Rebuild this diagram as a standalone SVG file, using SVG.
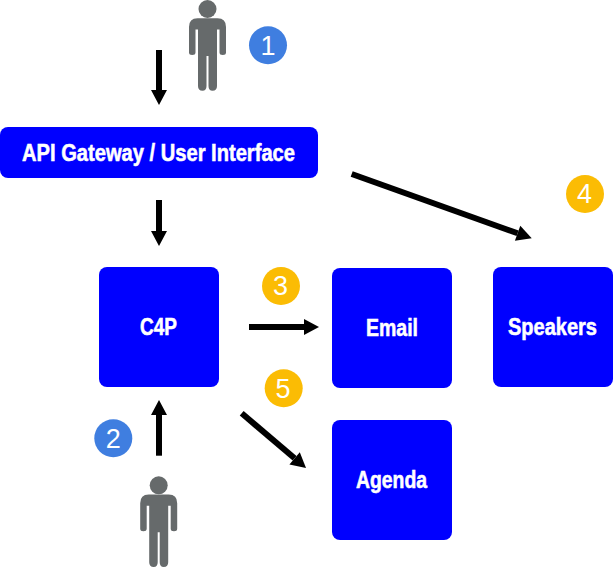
<svg xmlns="http://www.w3.org/2000/svg" xmlns:xlink="http://www.w3.org/1999/xlink" width="614" height="568" viewBox="0 0 614 568">
<style>
.box{fill:#0000ff}
.lbl{font-family:"Liberation Sans",Arial,sans-serif;font-weight:700;font-size:23.500px;fill:#fff;stroke:#fff;stroke-width:.55}
.num{font-family:"Liberation Sans",Arial,sans-serif;font-size:27px;fill:#fff;text-anchor:middle}
.blue{fill:#3f7ee0}
.gold{fill:#fbbc04}
.person{fill:#666a6b}
.conn line{stroke:#000;stroke-width:6;marker-end:url(#ah)}
</style>
<defs>
<marker id="ah" markerUnits="userSpaceOnUse" markerWidth="16" markerHeight="17" refX="0" refY="8" orient="auto" overflow="visible"><path d="M0,0L15,8L0,16z" fill="#000"/></marker>
<g id="man">
<circle cx="0" cy="9" r="9"/>
<path d="M-10,18.300H10Q18.500,18.300 18.500,27V52.500Q18.500,55 15.300,55Q12,55 12,52.500V29.500H9.500V86Q9.500,90.700 5,90.700Q1,90.700 1,86V56H-1V86Q-1,90.700 -5,90.700Q-9.500,90.700 -9.500,86V29.500H-12V52.500Q-12,55 -15.300,55Q-18.500,55 -18.500,52.500V27Q-18.500,18.300 -10,18.300z"/>
</g>
</defs>
<g id="user-top" class="person"><use xlink:href="#man" href="#man" x="207.500" y="0"/></g>
<g id="user-bottom" class="person"><use xlink:href="#man" href="#man" x="158.700" y="476.300"/></g>
<g id="gateway"><rect class="box" x="0" y="127" width="318" height="51" rx="8"/><text class="lbl" x="22" y="161" textLength="273" lengthAdjust="spacingAndGlyphs">API Gateway / User Interface</text></g>
<g id="c4p"><rect class="box" x="99" y="267" width="120" height="120" rx="8"/><text class="lbl" x="140" y="335" textLength="37" lengthAdjust="spacingAndGlyphs">C4P</text></g>
<g id="email"><rect class="box" x="332" y="268" width="120" height="120" rx="8"/><text class="lbl" x="366" y="336" textLength="52" lengthAdjust="spacingAndGlyphs">Email</text></g>
<g id="speakers"><rect class="box" x="493" y="267" width="120" height="120" rx="8"/><text class="lbl" x="508" y="335" textLength="89" lengthAdjust="spacingAndGlyphs">Speakers</text></g>
<g id="agenda"><rect class="box" x="332" y="420" width="120" height="120" rx="8"/><text class="lbl" x="356" y="488" textLength="71" lengthAdjust="spacingAndGlyphs">Agenda</text></g>
<g id="badge-1"><circle class="blue" cx="268" cy="45.300" r="19"/><text class="num" x="268" y="55">1</text></g>
<g id="badge-2"><circle class="blue" cx="113.300" cy="438.300" r="19"/><text class="num" x="113.300" y="448">2</text></g>
<g id="badge-3"><circle class="gold" cx="281" cy="286" r="19"/><text class="num" x="280.500" y="295">3</text></g>
<g id="badge-4"><circle class="gold" cx="585" cy="194" r="19"/><text class="num" x="584.500" y="203">4</text></g>
<g id="badge-5"><circle class="gold" cx="283.700" cy="388.300" r="19"/><text class="num" x="283" y="397.500">5</text></g>
<g id="connectors" class="conn">
<line x1="159" y1="50" x2="159" y2="90"/>
<line x1="159" y1="200" x2="159" y2="231"/>
<line x1="159" y1="455.700" x2="159" y2="415"/>
<line x1="249" y1="327" x2="304" y2="327"/>
<line x1="241.700" y1="413.300" x2="294.600" y2="458.300"/>
<line x1="351.700" y1="174" x2="517.600" y2="233.300"/>
</g>
</svg>
